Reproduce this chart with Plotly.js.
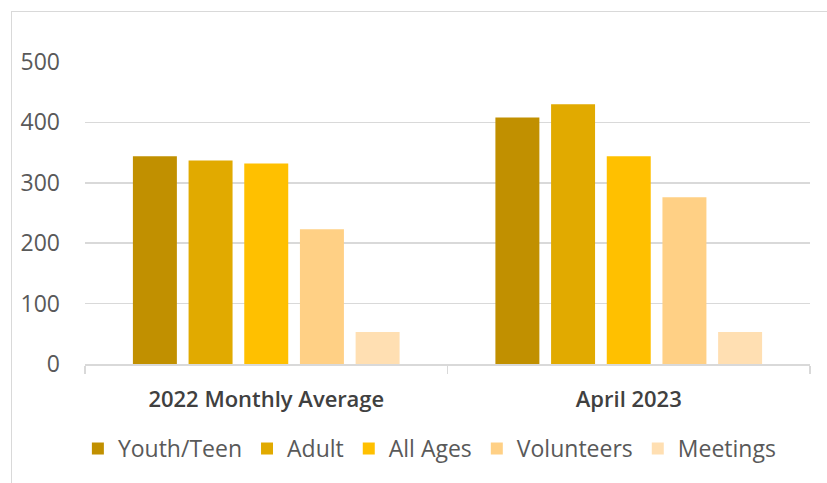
<!DOCTYPE html>
<html>
<head>
<meta charset="utf-8">
<script src="https://cdn.plot.ly/plotly-3.0.1.min.js"></script>
<style>
  html, body { margin: 0; padding: 0; background: #ffffff; overflow: hidden; }
  #frame { position: absolute; left: 11px; top: 11px; width: 830px; height: 490px;
           border-top: 1.5px solid #d9d9d9; border-left: 1.5px solid #d9d9d9; }
  #chart { position: absolute; left: 0; top: 0; width: 827px; height: 483px; }
</style>
</head>
<body>
<div id="frame"></div>
<div id="chart"></div>
<script>
const categories = ["2022 Monthly Average", "April 2023"];
const seriesNames = ["Youth/Teen", "Adult", "All Ages", "Volunteers", "Meetings"];
const youthTeen = [344, 408];
const adult = [337, 430];
const allAges = [332, 344];
const volunteers = [223, 276];
const meetings = [53, 53];
const yTicks = [0, 100, 200, 300, 400, 500];

const seriesValues = [youthTeen, adult, allAges, volunteers, meetings];
const colors = ["#C19000", "#E1AA00", "#FFC000", "#FFD085", "#FFDFB2"];

const traces = seriesNames.map((name, i) => ({
  type: "bar",
  name: name,
  x: categories,
  y: seriesValues[i],
  marker: { color: colors[i], line: { width: 0 } },
  hoverinfo: "x+y+name"
}));

const layout = {
  width: 827,
  height: 483,
  margin: { l: 85, r: 17, t: 62, b: 119 },
  paper_bgcolor: "rgba(0,0,0,0)",
  plot_bgcolor: "rgba(0,0,0,0)",
  font: { family: "Open Sans, sans-serif", size: 23, color: "#595959" },
  barmode: "group",
  bargap: 0.232,
  bargroupgap: 0.21,
  showlegend: true,
  legend: {
    orientation: "h",
    x: 0.475, xanchor: "center",
    y: -0.28, yanchor: "middle",
    font: { family: "Open Sans, sans-serif", size: 23, color: "#595959" },
    traceorder: "normal"
  },
  xaxis: {
    type: "category",
    showline: true, linecolor: "#d9d9d9", linewidth: 1.5,
    ticks: "outside", tickson: "boundaries", ticklen: 8, tickcolor: "#d9d9d9", tickwidth: 1.5,
    ticklabelstandoff: 15,
    tickfont: { family: "\"Open Sans SemiBold\", \"Open Sans\", sans-serif", size: 22, color: "#404040", weight: 600 },
    showgrid: false, zeroline: false
  },
  yaxis: {
    range: [0, 500],
    tickvals: yTicks,
    ticktext: yTicks.map(String),
    showgrid: true, gridcolor: "#d9d9d9", gridwidth: 1.5,
    zeroline: false, showline: false,
    ticks: "", ticklabelstandoff: 24,
    tickfont: { family: "Open Sans, sans-serif", size: 23, color: "#595959" }
  }
};

Plotly.newPlot("chart", traces, layout, { displayModeBar: false, staticPlot: true });
</script>
</body>
</html>
